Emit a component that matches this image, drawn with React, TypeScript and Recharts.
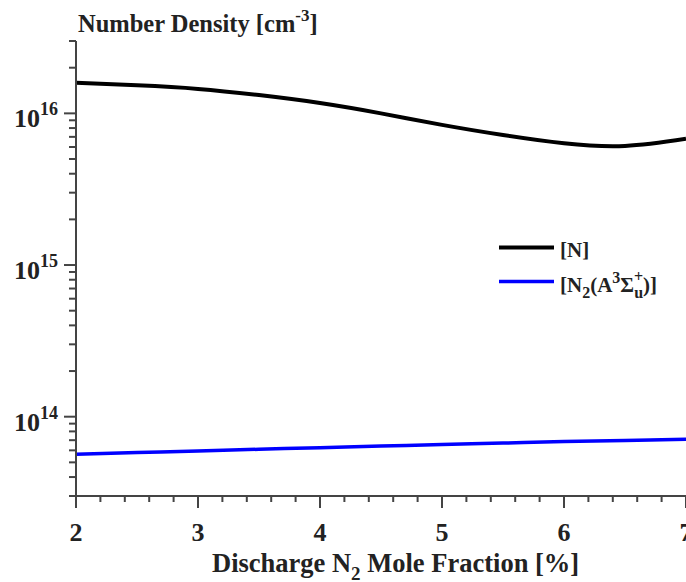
import { LineChart, Line, XAxis, YAxis } from "recharts";

const moleFraction = [2, 2.5, 3, 3.5, 4, 4.5, 5, 5.5, 6, 6.5, 7];
const atomicN = [1.59e16, 1.53e16, 1.45e16, 1.32e16, 1.17e16, 1.0e16, 8.4e15, 7.2e15, 6.35e15, 6.1e15, 6.8e15];
const metastableN2 = [5.65e13, 5.8e13, 5.95e13, 6.1e13, 6.25e13, 6.4e13, 6.55e13, 6.7e13, 6.85e13, 6.98e13, 7.1e13];

const xTicks = [2, 2.2, 2.4, 2.6, 2.8, 3, 3.2, 3.4, 3.6, 3.8, 4, 4.2, 4.4, 4.6, 4.8, 5, 5.2, 5.4, 5.6, 5.8, 6, 6.2, 6.4, 6.6, 6.8, 7];
const xMajor = [2, 3, 4, 5, 6, 7];
const yTicks = [
  3e13, 4e13, 5e13, 6e13, 7e13, 8e13, 9e13, 1e14,
  2e14, 3e14, 4e14, 5e14, 6e14, 7e14, 8e14, 9e14, 1e15,
  2e15, 3e15, 4e15, 5e15, 6e15, 7e15, 8e15, 9e15, 1e16,
  2e16, 3e16,
];
const yMajor = [1e14, 1e15, 1e16];
const yMajorExp = ["14", "15", "16"];

const data = moleFraction.map((x, i) => ({ x, n: atomicN[i], n2a: metastableN2[i] }));

const FONT = "'Liberation Serif', 'Times New Roman', serif";
const AXIS = "#444";
const TEXT = "#222";

function YTick(props: any) {
  const { x, y, payload } = props;
  const idx = yMajor.indexOf(payload.value);
  const major = idx >= 0;
  return (
    <g>
      <line x1={x - (major ? 12 : 7)} x2={x} y1={y} y2={y} stroke={AXIS} strokeWidth={2} />
      {major && (
        <text x={x - 18} y={y + 14} textAnchor="end" fontFamily={FONT} fontWeight="bold" fontSize={26} fill={TEXT}>
          <tspan>10</tspan>
          <tspan dy={-12} fontSize={18}>{yMajorExp[idx]}</tspan>
        </text>
      )}
    </g>
  );
}

function XTick(props: any) {
  const { x, y, payload } = props;
  const major = xMajor.includes(payload.value);
  return (
    <g>
      <line x1={x} x2={x} y1={y} y2={y + (major ? 12 : 6)} stroke={AXIS} strokeWidth={2} />
      {major && (
        <text x={x} y={y + 45} textAnchor="middle" fontFamily={FONT} fontWeight="bold" fontSize={26} fill={TEXT}>
          {payload.value}
        </text>
      )}
    </g>
  );
}

const renderTitle = () => (
  <text x={78} y={32} fontFamily={FONT} fontWeight="bold" fontSize={24.5} fill={TEXT}>
    <tspan>Number Density [cm</tspan>
    <tspan dy={-11} fontSize={17}>-3</tspan>
    <tspan dy={11} fontSize={24.5}>]</tspan>
  </text>
);

const renderBottom = () => (
  <g fontFamily={FONT} fontWeight="bold" fill={TEXT}>
    <text x={212} y={571.5} fontSize={26.5}>
      <tspan>Discharge N</tspan>
      <tspan dy={8} fontSize={19}>2</tspan>
      <tspan dy={-8} fontSize={26.5}> Mole Fraction [%]</tspan>
    </text>
    <line x1={499} x2={554} y1={247.5} y2={247.5} stroke="#000" strokeWidth={4} />
    <line x1={499} x2={554} y1={281.5} y2={281.5} stroke="#0000ff" strokeWidth={3.5} />
    <text x={560} y={256.5} fontSize={21}>[N]</text>
    <text x={560} y={291.5} fontSize={21}>
      <tspan>[N</tspan>
      <tspan dy={6} fontSize={16}>2</tspan>
      <tspan dy={-6} fontSize={21}>(A</tspan>
      <tspan dy={-9} fontSize={16}>3</tspan>
      <tspan dy={9} fontSize={21}>Σ</tspan>
      <tspan dy={-10} fontSize={16}>+</tspan>
      <tspan dx={-9} dy={16} fontSize={16}>u</tspan>
      <tspan dy={-6} fontSize={21}>)]</tspan>
    </text>
  </g>
);

export default function App() {
  return (
    <div style={{ position: "absolute", left: 0, top: 0, background: "#fff" }}>
      <LineChart width={686} height={582} data={data} margin={{ top: 41, right: 0, bottom: 0, left: 0 }}>
        <XAxis
          dataKey="x"
          type="number"
          domain={[2, 7]}
          ticks={xTicks}
          interval={0}
          height={86}
          tickSize={0}
          tickMargin={0}
          tickLine={false}
          axisLine={{ stroke: AXIS, strokeWidth: 2 }}
          tick={<XTick />}
          label={{ content: renderBottom }}
        />
        <YAxis
          type="number"
          scale="log"
          domain={[3e13, 3e16]}
          allowDataOverflow
          ticks={yTicks}
          interval={0}
          width={76}
          tickSize={0}
          tickMargin={0}
          tickLine={false}
          axisLine={{ stroke: AXIS, strokeWidth: 2 }}
          tick={<YTick />}
          label={{ content: renderTitle }}
        />
        <Line dataKey="n" type="natural" stroke="#000" strokeWidth={4} dot={false} activeDot={false} isAnimationActive={false} />
        <Line dataKey="n2a" type="natural" stroke="#0000ff" strokeWidth={3.5} dot={false} activeDot={false} isAnimationActive={false} />
      </LineChart>
    </div>
  );
}
